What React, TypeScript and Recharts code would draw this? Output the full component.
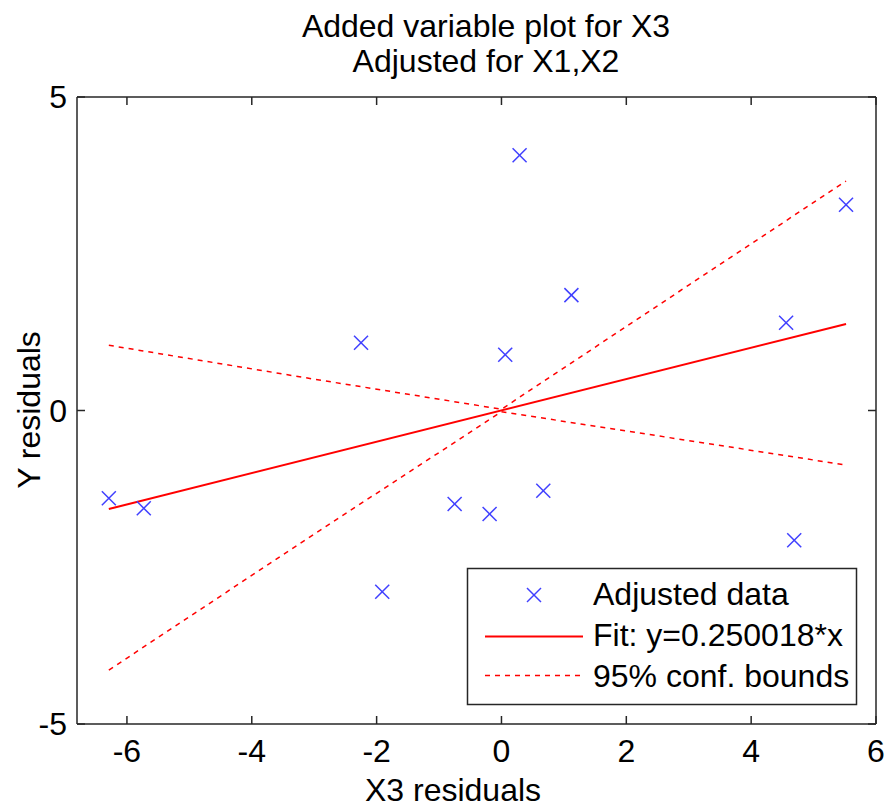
import React from 'react';
import { ScatterChart, Scatter, XAxis, YAxis } from 'recharts';

// residuals
const residX = [-6.29, -5.73, -2.25, -1.91, -0.75, -0.19, 0.06, 0.29, 0.67, 1.12, 4.56, 4.69, 5.52];
const residY = [-1.40, -1.56, 1.08, -2.89, -1.49, -1.65, 0.89, 4.07, -1.28, 1.84, 1.40, -2.07, 3.28];

// fitted line y = 0.250018*x, drawn over the data range
const fitX = [-6.29, 5.52];
const fitY = [-1.57, 1.38];

// 95% confidence bounds
const boundX = [-6.29, -3, 0, 3, 5.52];
const upperY = [1.04, 0.5, 0.02, 2.0, 3.66];
const lowerY = [-4.14, -1.97, -0.02, -0.48, -0.87];

const xTicks = [-6, -4, -2, 0, 2, 4, 6];
const yTicks = [-5, 0, 5];

const FONT = "'Liberation Sans', Arial, Helvetica, sans-serif";
const AXIS = '#262626';
const BLUE = '#4040ff';
const RED = '#ff0000';

const zip = (xs: number[], ys: number[]) => xs.map((x, i) => ({ x, y: ys[i] }));
const dataPts = zip(residX, residY);
const fitPts = zip(fitX, fitY);
const upperPts = zip(boundX, upperY);
const lowerPts = zip(boundX, lowerY);

const XMark = (props: any) => {
  const { cx, cy } = props;
  if (cx == null || cy == null) return <g />;
  const r = 7;
  return (
    <g stroke={BLUE} strokeWidth={1.5}>
      <line x1={cx - r} y1={cy - r} x2={cx + r} y2={cy + r} />
      <line x1={cx - r} y1={cy + r} x2={cx + r} y2={cy - r} />
    </g>
  );
};

const NoMark = () => <g />;

const axisLine = { stroke: AXIS, strokeWidth: 1.5 };
const tickFont = { fill: '#000', fontSize: 32, fontFamily: FONT };

export default function App() {
  return (
    <div style={{ position: 'absolute', left: 0, top: 0, width: 890, height: 809, background: '#fff' }}>
      <ScatterChart width={890} height={809} margin={{ top: 77, right: 0, bottom: 0, left: 0 }}>
        <XAxis
          xAxisId="b"
          type="number"
          dataKey="x"
          orientation="bottom"
          domain={[-6.8, 6]}
          ticks={xTicks}
          allowDataOverflow
          height={85}
          tickSize={-8}
          tickMargin={23}
          axisLine={axisLine}
          tickLine={axisLine}
          tick={tickFont}
          label={{
            content: () => (
              <text x={453} y={801} textAnchor="middle" fontSize={32} fontFamily={FONT} fill="#000">
                X3 residuals
              </text>
            ),
          }}
        />
        <XAxis
          xAxisId="t"
          type="number"
          dataKey="x"
          orientation="top"
          domain={[-6.8, 6]}
          ticks={xTicks}
          allowDataOverflow
          height={20}
          tickSize={-8}
          axisLine={axisLine}
          tickLine={axisLine}
          tickFormatter={() => ''}
        />
        <YAxis
          yAxisId="l"
          type="number"
          dataKey="y"
          domain={[-5, 5]}
          ticks={yTicks}
          allowDataOverflow
          width={77}
          tickSize={-8}
          tickMargin={18}
          axisLine={axisLine}
          tickLine={axisLine}
          tick={tickFont}
          label={{
            content: () => (
              <text x={40} y={410} transform="rotate(-90 40 410)" textAnchor="middle" fontSize={32} fontFamily={FONT} fill="#000">
                Y residuals
              </text>
            ),
          }}
        />
        <YAxis
          yAxisId="r"
          type="number"
          dataKey="y"
          orientation="right"
          domain={[-5, 5]}
          ticks={yTicks}
          allowDataOverflow
          width={14}
          tickSize={-8}
          axisLine={axisLine}
          tickLine={axisLine}
          tickFormatter={() => ''}
        />
        <Scatter xAxisId="b" yAxisId="l" data={upperPts} line={{ stroke: RED, strokeWidth: 1.5, strokeDasharray: '5 5' }} lineType="joint" shape={NoMark} isAnimationActive={false} />
        <Scatter xAxisId="b" yAxisId="l" data={lowerPts} line={{ stroke: RED, strokeWidth: 1.5, strokeDasharray: '5 5' }} lineType="joint" shape={NoMark} isAnimationActive={false} />
        <Scatter xAxisId="b" yAxisId="l" data={fitPts} line={{ stroke: RED, strokeWidth: 2 }} lineType="joint" shape={NoMark} isAnimationActive={false} />
        <Scatter xAxisId="b" yAxisId="l" data={dataPts} shape={XMark} isAnimationActive={false} />
      </ScatterChart>

      <svg width={890} height={809} style={{ position: 'absolute', left: 0, top: 0, pointerEvents: 'none' }}>
        <g fontFamily={FONT} fontSize={32} fill="#000" textAnchor="middle">
          <text x={486} y={37}>Added variable plot for X3</text>
          <text x={486} y={72}>Adjusted for X1,X2</text>
        </g>
        <rect x={467.5} y={568.5} width={389} height={136} fill="#fff" stroke={AXIS} strokeWidth={1.5} />
        <XMark cx={534} cy={595} />
        <line x1={485} y1={636.5} x2={583} y2={636.5} stroke={RED} strokeWidth={2} />
        <line x1={485} y1={675.5} x2={583} y2={675.5} stroke={RED} strokeWidth={1.5} strokeDasharray="5 5" />
        <g fontFamily={FONT} fontSize={32} fill="#000">
          <text x={593} y={605}>Adjusted data</text>
          <text x={593} y={646}>Fit: y=0.250018*x</text>
          <text x={593} y={687}>95% conf. bounds</text>
        </g>
      </svg>
    </div>
  );
}
